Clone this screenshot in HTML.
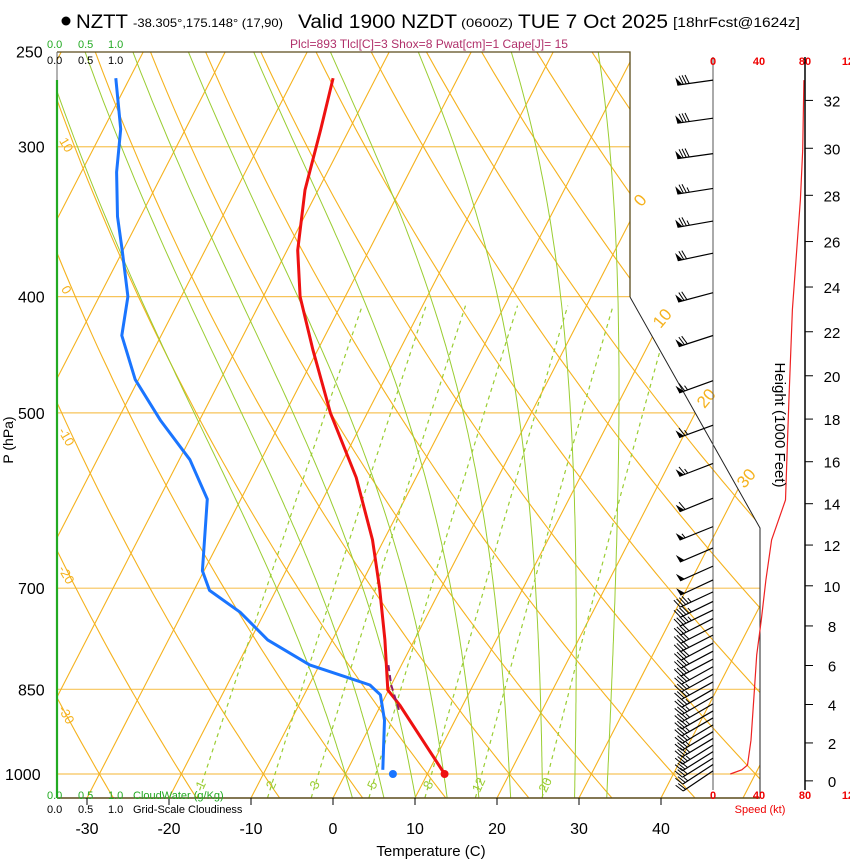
<!DOCTYPE html>
<html><head><meta charset="utf-8"><style>
html,body{margin:0;padding:0;background:#fff;}
svg{display:block;font-family:"Liberation Sans",sans-serif;}
</style></head><body>
<svg id="chart" width="850" height="860" viewBox="0 0 850 860" xmlns="http://www.w3.org/2000/svg">
<defs><clipPath id="plotclip"><polygon points="57,52 630,52 630,297 760,528 760,798 57,798"/></clipPath></defs>
<rect x="0" y="0" width="850" height="860" fill="#fff"/>
<g id="bg" clip-path="url(#plotclip)"></g>
<g id="fg"></g>
<g>
<circle cx="66" cy="21" r="4.5" fill="#000"/>
<text x="76" y="28" font-size="19" textLength="52" lengthAdjust="spacingAndGlyphs">NZTT</text>
<text x="133" y="27" font-size="12" textLength="150" lengthAdjust="spacingAndGlyphs">-38.305°,175.148° (17,90)</text>
<text x="298" y="28" font-size="19" textLength="159" lengthAdjust="spacingAndGlyphs">Valid 1900 NZDT</text>
<text x="461" y="27" font-size="12" textLength="52" lengthAdjust="spacingAndGlyphs">(0600Z)</text>
<text x="518" y="28" font-size="19" textLength="150" lengthAdjust="spacingAndGlyphs">TUE 7 Oct 2025</text>
<text x="673" y="27" font-size="14" textLength="127" lengthAdjust="spacingAndGlyphs">[18hrFcst@1624z]</text>
</g>
<text x="290" y="48" font-size="12" fill="#b0306a" textLength="278" lengthAdjust="spacingAndGlyphs">Plcl=893 Tlcl[C]=3 Shox=8 Pwat[cm]=1 Cape[J]= 15</text>
<g font-size="11">
<text x="47" y="48" fill="#22aa22">0.0</text><text x="78" y="48" fill="#22aa22">0.5</text><text x="108" y="48" fill="#22aa22">1.0</text>
<text x="47" y="64" fill="#000">0.0</text><text x="78" y="64" fill="#000">0.5</text><text x="108" y="64" fill="#000">1.0</text>
</g>
<g font-size="11">
<text x="47" y="799" fill="#22aa22">0.0</text><text x="78" y="799" fill="#22aa22">0.5</text><text x="108" y="799" fill="#22aa22">1.0</text>
<text x="133" y="799" fill="#22aa22">CloudWater (g/Kg)</text>
<text x="47" y="813" fill="#000">0.0</text><text x="78" y="813" fill="#000">0.5</text><text x="108" y="813" fill="#000">1.0</text>
<text x="133" y="813" fill="#000">Grid-Scale Cloudiness</text>
</g>
<text transform="translate(13,440) rotate(-90)" font-size="14" text-anchor="middle">P (hPa)</text>
<text x="431" y="856" font-size="15" text-anchor="middle">Temperature (C)</text>
<text transform="translate(775,425) rotate(90)" font-size="15" text-anchor="middle">Height (1000 Feet)</text>
<text x="760" y="813" font-size="11" fill="#e00" text-anchor="middle">Speed (kt)</text>
</svg>
<script>
// ---- data ----
const tempP = [1000, 876, 851, 773, 700, 638, 566, 500, 443, 400, 366, 326, 290, 263];
const tempC = [12.1, 2.3, -0.1, -3.6, -7.5, -11.4, -17.3, -24.5, -30.6, -35.5, -38.7, -41.6, -43.5, -45.2];
const dewP = [992, 902, 859, 843, 832, 811, 773, 733, 703, 677, 590, 547, 507, 469, 431, 400, 366, 343, 315, 290, 263];
const dewC = [4.3, 1.4, -0.7, -2.6, -5.5, -11.2, -17.9, -23.0, -28.1, -30.2, -34.1, -38.7, -44.8, -50.4, -54.8, -56.5, -60.1, -62.8, -65.7, -67.9, -71.7];
const parcelP = [884, 843, 811];
const parcelC = [2.5, 0.0, -1.6];
const sfcTemp = 12.1;
const sfcDew = 5.8;
const pressureTicks = [250, 300, 400, 500, 700, 850, 1000];
const tempTicks = [-30, -20, -10, 0, 10, 20, 30, 40];
const mixRatios = [1, 2, 3, 5, 8, 12, 20];
const heightTicks = [0, 2, 4, 6, 8, 10, 12, 14, 16, 18, 20, 22, 24, 26, 28, 30, 32];
const speedTicks = [0, 40, 80, 120];
const speedP = [1000, 992, 983, 937, 851, 796, 744, 689, 638, 591, 488, 410, 332, 302, 264];
const speedKt = [15, 25, 30, 33, 36, 38, 42, 46, 51, 63, 66, 69, 76, 78, 79];
const barbP = [264, 284, 304, 325, 346, 368, 397, 431, 470, 512, 551, 589, 622, 648, 671, 689, 705, 718, 730, 742, 754, 766, 778, 790, 802, 814, 826, 838, 850, 862, 874, 886, 898, 910, 922, 934, 946, 958, 970, 982, 994];
const barbDir = [262, 262, 262, 261, 260, 258, 255, 252, 250, 250, 249, 248, 248, 247, 246, 245, 245, 244, 244, 243, 243, 243, 242, 242, 242, 241, 241, 241, 240, 240, 240, 240, 240, 239, 239, 239, 238, 238, 238, 237, 236];
const barbKt = [80, 79, 78, 76, 74, 72, 70, 68, 66, 65, 64, 60, 55, 52, 51, 50, 46, 44, 43, 42, 41, 40, 40, 39, 38, 38, 37, 37, 36, 36, 36, 35, 35, 35, 34, 34, 33, 32, 30, 27, 20];
const moistThetaW = [0, 4, 8, 12, 16, 20, 24, 28, 32];

// ---- axes ----
const NS = 'http://www.w3.org/2000/svg';
function yP(p){ return 774 - 521*Math.log(1000/p); }
function xT(T,p){ return 333 + 8.2*T + 0.515*(798 - yP(p)); }
function xSpd(s){ return 713 + s*1.15; }
function stdP(kft){ const m = kft*304.8; return 1013.25*Math.pow(1-2.2558e-5*m, 5.2559); }
const bg = document.getElementById('bg');
const fg = document.getElementById('fg');
function mk(tag, attrs, parent){
  const e = document.createElementNS(NS, tag);
  for (const k in attrs) e.setAttribute(k, attrs[k]);
  (parent||fg).appendChild(e);
  return e;
}
function pts(arr){ return arr.map(a=>a[0].toFixed(1)+','+a[1].toFixed(1)).join(' '); }
function esat(Tc){ return 6.112*Math.exp(17.67*Tc/(Tc+243.5)); }
function tdFromW(w,p){ const e = w*p/(622+w); const l = Math.log(e/6.112); return 243.5*l/(17.67-l); }

for (const p of pressureTicks){
  const el = mk('line',{x1:57,x2:760,y1:yP(p),y2:yP(p),stroke:'#f7c45a','stroke-width':1.2},bg);
  
  
}
for (let T=-120; T<=50; T+=10){
  const el = mk('line',{x1:xT(T,1060),y1:yP(1060),x2:xT(T,240),y2:yP(240),stroke:'#f5b21e','stroke-width':1.1},bg);
  
  
}
for (let th=-40; th<=170; th+=10){
  const a=[];
  for (let p=1060; p>=240; p-=10){ const T=(th+273.15)*Math.pow(p/1000,0.2857)-273.15; a.push([xT(T,p),yP(p)]); }
  const el = mk('polyline',{points:pts(a),fill:'none',stroke:'#f5b21e','stroke-width':1.1},bg);
  
  
}
function moist(tw){
  const Rd=287, cp=1004, Lv=2.5e6, eps=0.622;
  const f=(T,p)=>{ const Tc=T-273.15; const es=esat(Tc); const rs=eps*es/(p-es); return (Rd*T+Lv*rs)/(p*(cp+Lv*Lv*rs*eps/(Rd*T*T))); };
  const up=[], dn=[];
  let T=tw+273.15;
  for (let p=1000; p>=240; p-=5){ up.push([xT(T-273.15,p),yP(p)]); T -= f(T,p)*5; }
  T=tw+273.15;
  for (let p=1000; p<=1060; p+=5){ dn.unshift([xT(T-273.15,p),yP(p)]); T += f(T,p)*5; }
  return dn.concat(up);
}
for (const tw of moistThetaW){
  const el = mk('polyline',{points:pts(moist(tw)),fill:'none',stroke:'#9acd32','stroke-width':1},bg);
  
  
}
for (const w of mixRatios){
  const a=[];
  for (let p=1047; p>=400; p-=10){ a.push([xT(tdFromW(w,p),p),yP(p)]); }
  const el = mk('polyline',{points:pts(a),fill:'none',stroke:'#9acd32','stroke-width':1.2,'stroke-dasharray':'4,4'},bg);
  
  
  const lx = xT(tdFromW(w,1035),1035)+2;
  const t = mk('text',{x:lx,y:789,'font-size':13,fill:'#9acd32','text-anchor':'middle',transform:'rotate(-65 '+lx+' 785)'});
  
  
  t.textContent = String(w);
}
const frame = mk('polyline',{points:'57,52 630,52 630,297',fill:'none',stroke:'#5a4a1a','stroke-width':1.3});


const frame2 = mk('polyline',{points:'630,297 760,528 760,798',fill:'none',stroke:'#222','stroke-width':1});


const frame3 = mk('line',{x1:57,y1:798,x2:760,y2:798,stroke:'#5a4a1a','stroke-width':1.5});


const frame4 = mk('line',{x1:57,y1:52,x2:57,y2:798,stroke:'#666','stroke-width':1});


const cw = mk('line',{x1:57,y1:80,x2:57,y2:798,stroke:'#22aa22','stroke-width':2.2});


const isoLab=[[0,640,200],[10,662,318],[20,706,398],[30,746,478]];
for (const L of isoLab){
  const t = mk('text',{x:L[1],y:L[2]+6,'font-size':17,fill:'#f5b21e','text-anchor':'middle',transform:'rotate(-50 '+L[1]+' '+L[2]+')'});
  
  
  t.textContent=String(L[0]);
}
const thLab=[[10,145],[0,290],[-10,437],[-20,575],[-30,715]];
for (const L of thLab){
  const t = mk('text',{x:66,y:L[1]+4,'font-size':13,fill:'#f5b21e','text-anchor':'middle',transform:'rotate(60 66 '+L[1]+')'});
  
  
  t.textContent=String(L[0]);
}
for (const p of pressureTicks){
  const t = mk('text',{x:p===1000?5:(p<300?16:18),y:yP(p)+6,'font-size':16});
  
  
  t.textContent=String(p);
}
for (const T of tempTicks){
  const x = 333+8.2*T;
  const tk = mk('line',{x1:x,x2:x,y1:798,y2:805,stroke:'#000','stroke-width':1});
  
  
  const t = mk('text',{x:x,y:834,'font-size':16,'text-anchor':'middle'});
  
  
  t.textContent=String(T);
}
function prof(P,C,color,w,dash,name){
  const a=P.map((p,i)=>[xT(C[i],p),yP(p)]);
  const at={points:pts(a),fill:'none',stroke:color,'stroke-width':w,'stroke-linejoin':'round'};
  if(dash) at['stroke-dasharray']=dash;
  const el = mk('polyline',at);
  
  
}
prof(dewP,dewC,'#1a75ff',3,null,'dewpoint-line');
prof(tempP,tempC,'#ee1111',3,null,'temperature-line');
prof(parcelP,parcelC,'#8b1a6b',2,'6,4','parcel-line');
const d1 = mk('circle',{cx:xT(sfcDew,1000),cy:yP(1000),r:4,fill:'#1a75ff'});


const d2 = mk('circle',{cx:xT(sfcTemp,1000),cy:yP(1000),r:4,fill:'#ee1111'});



const bl = mk('line',{x1:713,y1:57,x2:713,y2:790,stroke:'#555','stroke-width':1});


for (const s of speedTicks){
  for (const yy of [65,799]){
    const t = mk('text',{x:xSpd(s),y:yy,'font-size':11,fill:'#e00','text-anchor':'middle','font-weight':'bold'});
    
    
    t.textContent=String(s);
  }
}
const sc = mk('polyline',{points:pts(speedP.map((p,i)=>[xSpd(speedKt[i]),yP(p)])),fill:'none',stroke:'#ee2222','stroke-width':1.2});


const ha = mk('line',{x1:805,y1:57,x2:805,y2:790,stroke:'#000','stroke-width':1.5});


for (const h of heightTicks){
  const y = yP(stdP(h));
  const tk = mk('line',{x1:805,x2:813,y1:y,y2:y,stroke:'#000','stroke-width':1});
  
  
  const t = mk('text',{x:832,y:y+6,'font-size':15,'text-anchor':'middle'});
  
  
  t.textContent=String(h);
}
for (let i=0;i<barbP.length;i++){
  const y0=yP(barbP[i]), d=barbDir[i]*Math.PI/180;
  const ux=Math.sin(d), uy=-Math.cos(d);
  const nx=-uy, ny=ux;
  const L=36;
  const g = mk('g',{});
  
  
  const tx=713+ux*L, ty=y0+uy*L;
  mk('line',{x1:713,y1:y0,x2:tx,y2:ty,stroke:'#000','stroke-width':1.2},g);
  let s=Math.round(barbKt[i]/5)*5, pos=0;
  while(s>=50){
    const ax=tx-ux*pos, ay=ty-uy*pos;
    mk('polygon',{points:pts([[ax,ay],[ax-ux*5,ay-uy*5],[ax+nx*8+ux*1,ay+ny*8+uy*1]]),fill:'#000'},g);
    pos+=6; s-=50;
  }
  while(s>=10){
    const ax=tx-ux*pos, ay=ty-uy*pos;
    mk('line',{x1:ax,y1:ay,x2:ax+nx*9+ux*3,y2:ay+ny*9+uy*3,stroke:'#000','stroke-width':1},g);
    pos+=3; s-=10;
  }
  if(s>=5){
    const ax=tx-ux*pos, ay=ty-uy*pos;
    mk('line',{x1:ax,y1:ay,x2:ax+nx*5+ux*1.5,y2:ay+ny*5+uy*1.5,stroke:'#000','stroke-width':1},g);
  }
}
</script>
</body></html>
